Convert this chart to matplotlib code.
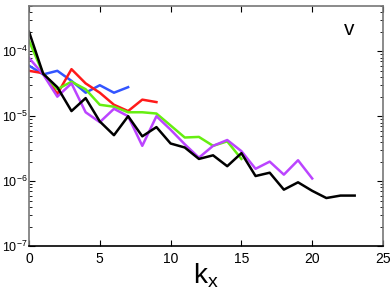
import matplotlib
matplotlib.use("Agg")
import matplotlib.pyplot as plt
import numpy as np

plt.rcParams['font.family'] = ['Liberation Sans', 'DejaVu Sans']
plt.rcParams['mathtext.fontset'] = 'custom'
plt.rcParams['mathtext.rm'] = 'Liberation Sans'

# spectra
blue_k = np.arange(0, 8)
blue_v = [6.0e-5, 4.4e-5, 5.0e-5, 3.5e-5, 2.3e-5, 3.0e-5, 2.3e-5, 2.8e-5]

red_k = np.arange(0, 10)
red_v = [5.0e-5, 4.6e-5, 2.2e-5, 5.3e-5, 3.2e-5, 2.3e-5, 1.5e-5, 1.2e-5, 1.8e-5, 1.65e-5]

green_k = np.arange(0, 16)
green_v = [1.45e-4, 4.5e-5, 2.6e-5, 3.4e-5, 2.6e-5, 1.5e-5, 1.4e-5, 1.15e-5,
           1.15e-5, 1.1e-5, 7.2e-6, 4.7e-6, 4.8e-6, 3.5e-6, 4.1e-6, 2.2e-6]

purple_k = np.arange(0, 21)
purple_v = [7.9e-5, 4.4e-5, 2.0e-5, 3.2e-5, 1.15e-5, 8.1e-6, 1.3e-5, 1.0e-5,
            3.5e-6, 1.0e-5, 6.2e-6, 3.7e-6, 2.3e-6, 3.5e-6, 4.3e-6, 2.9e-6,
            1.55e-6, 2.0e-6, 1.26e-6, 2.1e-6, 1.1e-6]

black_k = np.arange(0, 24)
black_v = [2.0e-4, 4.5e-5, 2.8e-5, 1.2e-5, 1.9e-5, 8.3e-6, 5.1e-6, 1.0e-5,
           4.9e-6, 6.8e-6, 3.8e-6, 3.3e-6, 2.2e-6, 2.5e-6, 1.7e-6, 2.7e-6,
           1.2e-6, 1.35e-6, 7.4e-7, 9.6e-7, 7.1e-7, 5.5e-7, 6.0e-7, 6.0e-7]

fig = plt.figure(figsize=(3.92, 2.93), dpi=100)
ax = fig.add_axes([0.074, 0.160, 0.903, 0.820])

lw = 1.8
ax.semilogy(blue_k, blue_v, color='#3355ff', lw=lw)
ax.semilogy(red_k, red_v, color='#ff1a1a', lw=lw)
ax.semilogy(green_k, green_v, color='#66ee11', lw=lw)
ax.semilogy(purple_k, purple_v, color='#bb44ff', lw=lw)
ax.semilogy(black_k, black_v, color='black', lw=lw)

ax.set_xlim(0, 25)
ax.set_ylim(1e-7, 5e-4)
ax.set_xticks([0, 5, 10, 15, 20, 25])
ax.tick_params(which='both', direction='in', top=True, right=True)
ax.tick_params(axis='x', labelsize=10, pad=4)
ax.tick_params(axis='y', labelsize=9, pad=1)
ax.tick_params(which='major', length=4)
ax.tick_params(which='minor', length=2)

for s in ['top', 'right', 'left']:
    ax.spines[s].set_color('#777777')
ax.spines['bottom'].set_color('black')
for s in ax.spines.values():
    s.set_linewidth(1.2)

ax.text(0.905, 0.90, 'v', transform=ax.transAxes, fontsize=15, ha='center', va='center')
ax.set_xlabel('$\\mathregular{k_x}$', fontsize=20, labelpad=-3)

fig.savefig('out.png', dpi=100)
